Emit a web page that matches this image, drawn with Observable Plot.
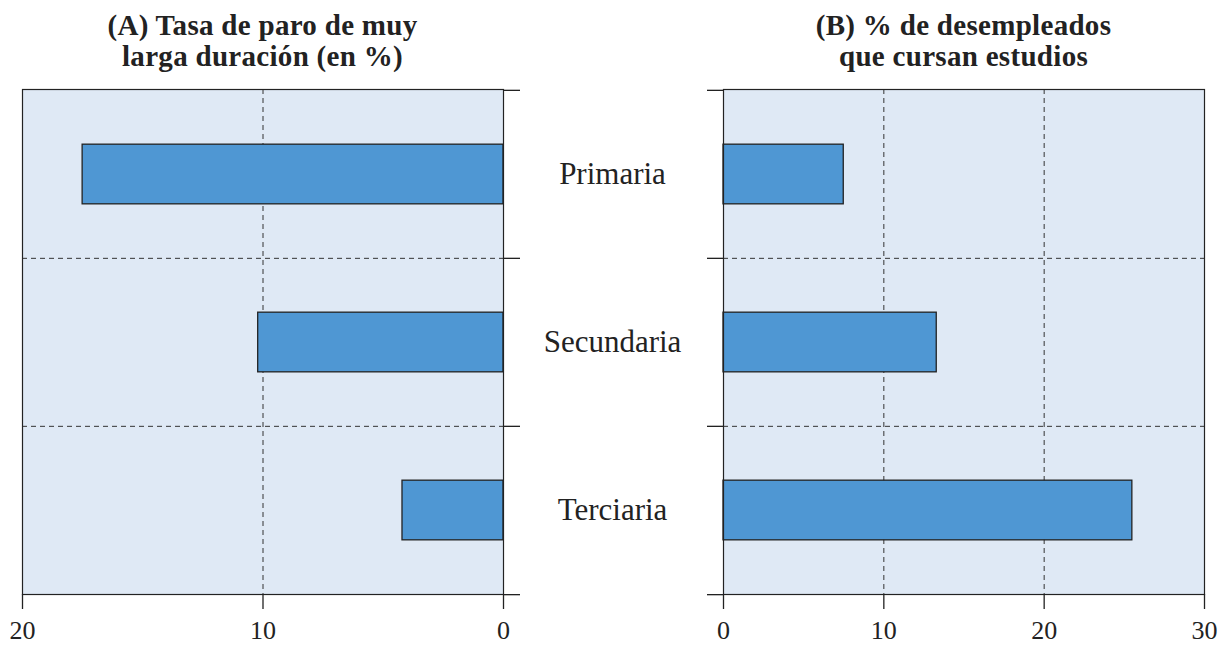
<!DOCTYPE html>
<html>
<head>
<meta charset="utf-8">
<script src="https://cdn.jsdelivr.net/npm/d3@7"></script>
<script src="https://cdn.jsdelivr.net/npm/@observablehq/plot@0.6"></script>
<style>
  html, body { margin: 0; padding: 0; background: #fff; }
  #wrap { position: relative; width: 1220px; height: 645px; overflow: hidden; font-family: "Liberation Serif", serif; color: #222; }
  .title { position: absolute; top: 10px; text-align: center; font-weight: bold; font-size: 29px; line-height: 31px; letter-spacing: 0.3px; }
  .panel { position: absolute; top: 0; }
  .panel svg { overflow: visible; background: transparent; }
</style>
</head>
<body>
<div id="wrap">
  <div class="title" id="tA" style="left:22px;width:481px;">(A) Tasa de paro de muy<br>larga duración (en %)</div>
  <div class="title" id="tB" style="left:723px;width:481px;">(B) % de desempleados<br>que cursan estudios</div>
  <div class="panel" id="pA" style="left:0px;"></div>
  <div class="panel" id="pB" style="left:700px;"></div>
</div>
<script>
const categories = ["Primaria", "Secundaria", "Terciaria"];
const valuesA = [17.5, 10.2, 4.2];
const valuesB = [7.5, 13.3, 25.5];
const ticksA = [20, 10, 0];
const ticksB = [0, 10, 20, 30];

const H = 645, MT = 89, MB = 51;
const bw = (H - MT - MB) / categories.length;
const barH = 60;
const inset = (bw - barH) / 2;
const bg = "#dfe9f5", barFill = "#4f97d3", ink = "#222";

function panel({values, domain, reverse, ticks, width, ml, mr, axisSide, labels}) {
  const rows = categories.map((c, i) => ({cat: c, v: values[i]}));
  const last = categories[categories.length - 1];
  const axisOpts = {anchor: axisSide, tickSize: 16, tickFormat: () => "", stroke: ink, strokeOpacity: 1, strokeWidth: 1.3};
  const marks = [
    Plot.frame({fill: bg, stroke: null}),
    Plot.gridX(ticks.filter(t => t !== domain[0] && t !== domain[1]), {stroke: "#333", strokeOpacity: 1, strokeDasharray: "5,4", strokeWidth: 1}),
    Plot.gridY(categories.slice(1), {dy: -bw / 2, stroke: "#333", strokeOpacity: 1, strokeDasharray: "5,4", strokeWidth: 1}),
    Plot.barX(rows, {x: "v", y: "cat", fill: barFill, stroke: ink, strokeWidth: 1.3, insetTop: inset, insetBottom: inset}),
    Plot.frame({stroke: ink, strokeWidth: 1.2}),
    Plot.axisY(categories, {...axisOpts, dy: -bw / 2}),
    Plot.axisY([last], {...axisOpts, dy: bw / 2}),
    Plot.axisX(ticks, {tickSize: 15, tickPadding: 11, fontSize: 26, stroke: ink, strokeOpacity: 1, strokeWidth: 1.3, fill: ink, label: null})
  ];
  if (labels) {
    marks.push(Plot.text(categories, {y: d => d, text: d => d, frameAnchor: "right", dx: 109, fontSize: 31, textAnchor: "middle", fill: ink}));
  }
  return Plot.plot({
    width, height: H,
    marginLeft: ml, marginRight: mr, marginTop: MT, marginBottom: MB,
    style: {fontFamily: "Liberation Serif, serif", fontSize: "26px", color: ink, background: "transparent", overflow: "visible"},
    x: {domain, reverse, label: null},
    y: {domain: categories, padding: 0, label: null, axis: null},
    marks
  });
}

document.getElementById("pA").append(panel({values: valuesA, domain: [0, 20], reverse: true, ticks: ticksA, width: 700, ml: 22, mr: 197, axisSide: "right", labels: true}));
document.getElementById("pB").append(panel({values: valuesB, domain: [0, 30], reverse: false, ticks: ticksB, width: 520, ml: 23, mr: 16, axisSide: "left", labels: false}));
</script>
</body>
</html>
